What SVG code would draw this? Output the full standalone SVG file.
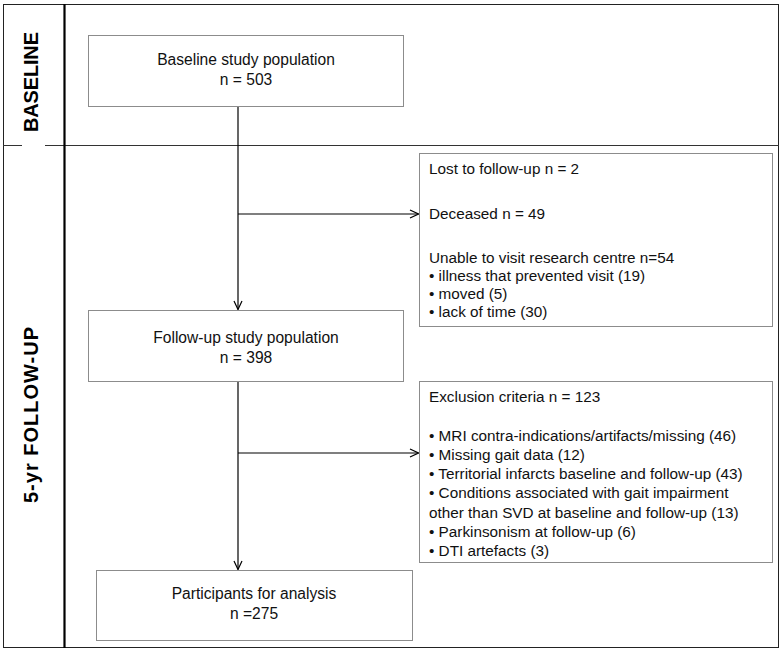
<svg xmlns="http://www.w3.org/2000/svg" width="783" height="651" viewBox="0 0 783 651">
<style>
.box{fill:#fff;stroke:#8c8c8c;stroke-width:1}
.t{font-family:"Liberation Sans",Arial,sans-serif;font-size:15.3px;fill:#111}
.m{font-size:15.6px}
.c{text-anchor:middle}
.lab{font-family:"Liberation Sans",Arial,sans-serif;font-size:20px;font-weight:bold;fill:#000;text-anchor:middle}
.con{stroke:#000;stroke-width:1.2;fill:none}
</style>
<defs>
<marker id="arr" viewBox="0 0 10 10" refX="9.5" refY="5" markerWidth="10" markerHeight="10" markerUnits="userSpaceOnUse" orient="auto">
<polyline points="1,1 9.5,5 1,9" fill="none" stroke="#000" stroke-width="1.2"/>
</marker>
</defs>
<rect width="783" height="651" fill="#fff"/>
<g id="frame">
<rect x="3.5" y="4.5" width="775" height="643" fill="none" stroke="#222" stroke-width="1"/>
<line x1="3" y1="145.5" x2="22" y2="145.5" stroke="#333" stroke-width="1"/>
<line x1="45" y1="145.5" x2="779" y2="145.5" stroke="#333" stroke-width="1"/>
<line x1="64.5" y1="4" x2="64.5" y2="648" stroke="#000" stroke-width="2.2"/>
<text class="lab" transform="translate(37.5,82) rotate(-90)" textLength="100" lengthAdjust="spacing">BASELINE</text>
<text class="lab" transform="translate(37.5,415) rotate(-90)" textLength="176" lengthAdjust="spacing">5-yr FOLLOW-UP</text>
</g>
<g id="connectors">
<line class="con" x1="238" y1="106" x2="238" y2="309.5" marker-end="url(#arr)"/>
<line class="con" x1="238" y1="214" x2="418.5" y2="214" marker-end="url(#arr)"/>
<line class="con" x1="238" y1="381" x2="238" y2="569.5" marker-end="url(#arr)"/>
<line class="con" x1="238" y1="453" x2="418.5" y2="453" marker-end="url(#arr)"/>
</g>
<g id="baseline">
<rect class="box" x="88.5" y="35.5" width="315" height="71"/>
<text class="t m c" x="246" y="65">Baseline study population</text>
<text class="t m c" x="246" y="85">n = 503</text>
</g>
<g id="followup">
<rect class="box" x="88.5" y="310.5" width="315" height="71"/>
<text class="t m c" x="246" y="343">Follow-up study population</text>
<text class="t m c" x="246" y="363">n = 398</text>
</g>
<g id="participants">
<rect class="box" x="96.5" y="570.5" width="316" height="70"/>
<text class="t m c" x="254" y="599">Participants for analysis</text>
<text class="t m c" x="254" y="619">n =275</text>
</g>
<g id="lost">
<rect class="box" x="419.5" y="153.5" width="353" height="173"/>
<text class="t" x="429" y="174">Lost to follow-up n = 2</text>
<text class="t" x="429" y="219">Deceased n = 49</text>
<text class="t" x="429" y="263">Unable to visit research centre n=54</text>
<text class="t" x="429" y="281">• illness that prevented visit (19)</text>
<text class="t" x="429" y="299">• moved (5)</text>
<text class="t" x="429" y="317">• lack of time (30)</text>
</g>
<g id="exclusion">
<rect class="box" x="419.5" y="381.5" width="353" height="181"/>
<text class="t" x="429" y="402">Exclusion criteria n = 123</text>
<text class="t" x="429" y="441">• MRI contra-indications/artifacts/missing (46)</text>
<text class="t" x="429" y="460">• Missing gait data (12)</text>
<text class="t" x="429" y="479">• Territorial infarcts baseline and follow-up (43)</text>
<text class="t" x="429" y="498">• Conditions associated with gait impairment</text>
<text class="t" x="429" y="518">other than SVD at baseline and follow-up (13)</text>
<text class="t" x="429" y="537">• Parkinsonism at follow-up (6)</text>
<text class="t" x="429" y="556">• DTI artefacts (3)</text>
</g>
</svg>
